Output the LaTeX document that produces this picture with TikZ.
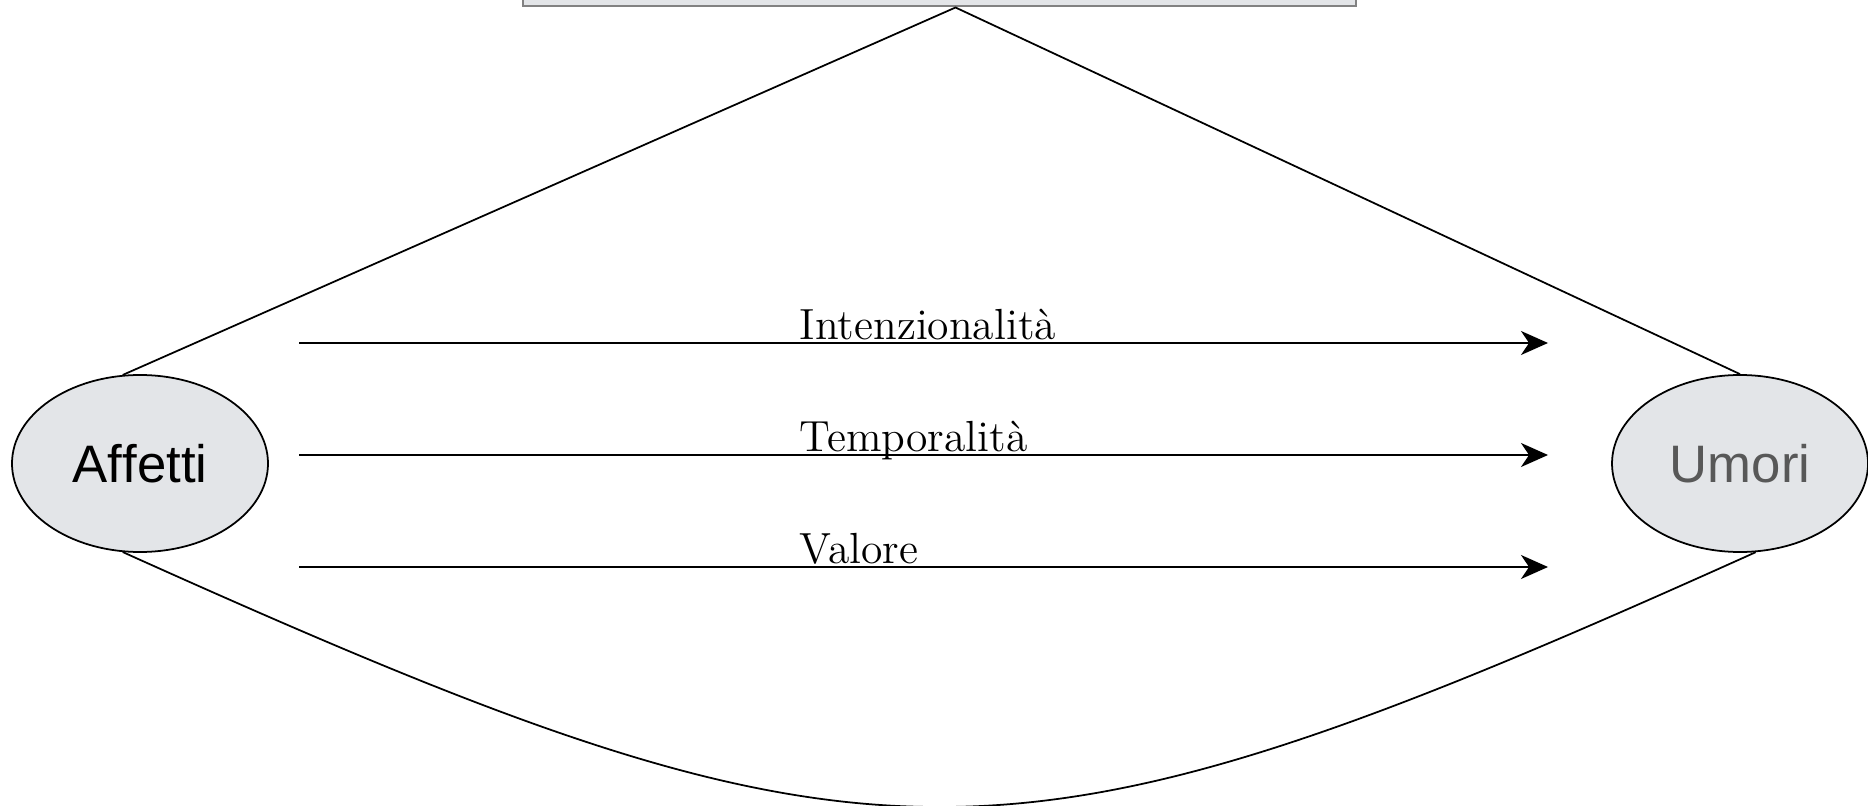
\documentclass[tikz,border=0pt]{standalone}
\usepackage{fontspec}
\usepackage{xcolor}
\usepackage{tikz}
\usetikzlibrary{shapes.geometric, arrows.meta}

\newfontfamily\arialfont[Ligatures=NoCommon]{Liberation Sans}
\definecolor{boxfill}{RGB}{227,229,232}
\definecolor{boxline}{RGB}{130,130,130}
\definecolor{umorigray}{RGB}{88,88,88}

\begin{document}
\begin{tikzpicture}[>={Stealth[length=2.7mm, width=2.4mm, inset=0.8mm]}, line width=0.5pt]
	\tikzstyle{mood} = [draw, ellipse, fill=boxfill, minimum width=2.56cm, minimum height=1.77cm, inner sep=0pt, font=\arialfont\fontsize{15}{18}\selectfont]
	\tikzstyle{topbox} = [draw=boxline, fill=boxfill, line width=0.6pt, minimum width=8.33cm, minimum height=1cm, inner sep=0pt]
	\tikzstyle{trait} = [anchor=base west, inner sep=0pt, font=\fontsize{12.4}{15}\selectfont]

	\useasboundingbox (0,0) rectangle (18.68,8.05);

	% the box at the top and the two ellipses
	\node[topbox, anchor=south] (top) at (9.395,7.975) {};
	\node[mood] (affetti) at (1.40,3.415) {Af\kern0pt f\kern0pt etti};
	\node[mood, text=umorigray] (umori) at (17.40,3.415) {Umori};
	\coordinate (apex) at ([xshift=0.16cm]top.south);

	\draw (affetti.101) -- (apex) -- (umori.north);
	\draw (affetti.259) .. controls (8.78,-0.87) and (10.01,-0.87) .. (umori.280);

	% the three arrows
	\coordinate (i0) at (2.99,4.62);
	\coordinate (i1) at (15.48,4.62);
	\coordinate (t0) at (2.99,3.50);
	\coordinate (t1) at (15.48,3.50);
	\coordinate (v0) at (2.99,2.38);
	\coordinate (v1) at (15.48,2.38);

	\path[->]
		(i0) edge (i1)
		(t0) edge (t1)
		(v0) edge (v1)
	;

	\node[trait] (intenz) at (7.99,4.655) {Intenzionalità};
	\node[trait] (tempor) at (7.99,3.535) {Temporalità};
	\node[trait] (valore) at (7.99,2.415) {Valore};
\end{tikzpicture}
\end{document}
